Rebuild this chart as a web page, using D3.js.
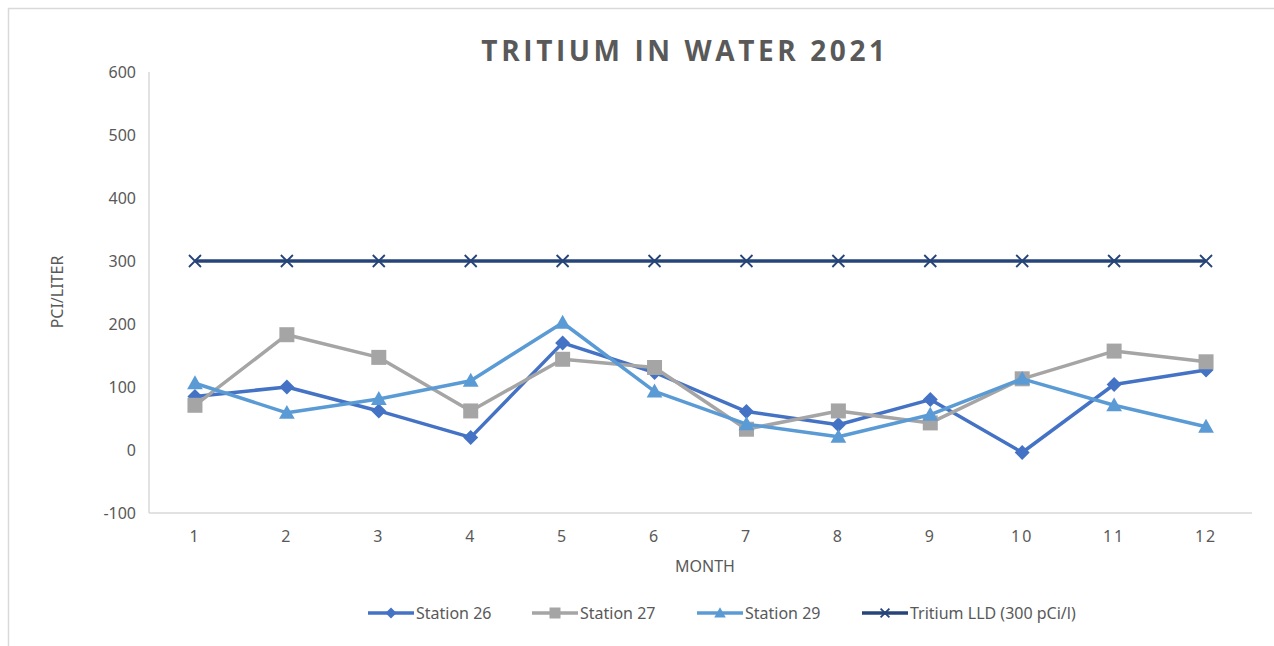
<!DOCTYPE html>
<html>
<head>
<meta charset="utf-8">
<script src="https://cdn.jsdelivr.net/npm/d3@7"></script>
<style>
  body { margin: 0; background: #fff; }
  text { font-family: "Noto Sans", "Open Sans", sans-serif; fill: #595959; }
</style>
</head>
<body>
<svg id="chart" width="1274" height="646"></svg>
<script>
var months = ["1", "2", "3", "4", "5", "6", "7", "8", "9", "10", "11", "12"];
var station26 = [85, 100, 62, 20, 170, 123, 61, 40, 80, -4, 104, 127];
var station27 = [71, 183, 147, 62, 144, 131, 33, 62, 43, 113, 157, 140];
var station29 = [106, 59, 81, 110, 202, 93, 41, 21, 56, 113, 71, 37];
var lld = [300, 300, 300, 300, 300, 300, 300, 300, 300, 300, 300, 300];
var yTicks = [-100, 0, 100, 200, 300, 400, 500, 600];

var series = [
    {name: "Station 26", values: station26, color: "#4472C4", shape: "diamond"},
    {name: "Station 27", values: station27, color: "#A5A5A5", shape: "square"},
    {name: "Station 29", values: station29, color: "#5B9BD5", shape: "triangle"},
    {name: "Tritium LLD (300 pCi/l)", values: lld, color: "#264478", shape: "cross"}
];

var svg = d3.select("#chart");
var margin = {left: 149, right: 22, top: 72, bottom: 133};
var width = 1274 - margin.left - margin.right;
var height = 646 - margin.top - margin.bottom;

// chart frame
svg.append("rect")
    .attr("x", 8.5).attr("y", 8.5)
    .attr("width", 1300).attr("height", 700)
    .attr("fill", "none")
    .attr("stroke", "#d9d9d9")
    .attr("stroke-width", 1.5);

var g = svg.append("g").attr("transform", "translate(" + margin.left + "," + margin.top + ")");

var x = d3.scaleBand().domain(months).range([0, width]);
var y = d3.scaleLinear().domain([-100, 600]).range([height, 0]);

// axes
g.append("line")
    .attr("x1", 0).attr("x2", 0)
    .attr("y1", 0).attr("y2", height)
    .attr("stroke", "#d9d9d9").attr("stroke-width", 1.5);
g.append("line")
    .attr("x1", 0).attr("x2", width)
    .attr("y1", y(-100)).attr("y2", y(-100))
    .attr("stroke", "#d9d9d9").attr("stroke-width", 1.5);

g.selectAll(".ytick")
    .data(yTicks)
    .enter().append("text")
    .attr("class", "ytick")
    .attr("x", -13)
    .attr("y", d => y(d))
    .attr("text-anchor", "end")
    .attr("dominant-baseline", "central")
    .style("font-size", "16px")
    .text(d => d);

g.selectAll(".xtick")
    .data(months)
    .enter().append("text")
    .attr("class", "xtick")
    .attr("x", d => x(d) + x.bandwidth() / 2)
    .attr("y", height + 29)
    .attr("text-anchor", "middle")
    .style("font-size", "16px")
    .style("letter-spacing", "2px")
    .text(d => d);

// titles
svg.append("text")
    .attr("x", 685).attr("y", 61)
    .attr("text-anchor", "middle")
    .style("font-family", "'Open Sans', sans-serif")
    .style("font-size", "28px")
    .style("font-weight", "bold")
    .style("letter-spacing", "3.6px")
    .text("TRITIUM  IN  WATER  2021");

svg.append("text")
    .attr("x", 705).attr("y", 572)
    .attr("text-anchor", "middle")
    .style("font-size", "16px")
    .text("MONTH");

svg.append("text")
    .attr("transform", "translate(63,292) rotate(-90)")
    .attr("text-anchor", "middle")
    .style("font-size", "16px")
    .text("PCI/LITER");

function marker(sel, shape, color, s) {
    // s = half size of marker
    var d;
    if (shape === "cross") {
        var c = s * 0.8;
        sel.append("path")
            .attr("d", "M" + (-c) + "," + (-c) + "L" + c + "," + c + "M" + (-c) + "," + c + "L" + c + "," + (-c))
            .attr("stroke", color).attr("stroke-width", 1.8).attr("fill", "none");
        return;
    }
    if (shape === "diamond") d = "M0," + (-s) + "L" + s + ",0L0," + s + "L" + (-s) + ",0Z";
    if (shape === "square") d = "M" + (-s) + "," + (-s) + "H" + s + "V" + s + "H" + (-s) + "Z";
    if (shape === "triangle") d = "M0," + (-s * 1.05) + "L" + (s * 1.05) + "," + (s * 0.8) + "L" + (-s * 1.05) + "," + (s * 0.8) + "Z";
    sel.append("path").attr("d", d).attr("fill", color);
}

var line = d3.line()
    .x((d, i) => x(months[i]) + x.bandwidth() / 2)
    .y(d => y(d));

series.forEach(function(s) {
    g.append("path")
        .datum(s.values)
        .attr("fill", "none")
        .attr("stroke", s.color)
        .attr("stroke-width", 3.5)
        .attr("stroke-linejoin", "round")
        .attr("d", line);
    var pts = g.selectAll(".pt-" + s.shape)
        .data(s.values)
        .enter().append("g")
        .attr("class", "pt-" + s.shape)
        .attr("transform", (d, i) => "translate(" + (x(months[i]) + x.bandwidth() / 2) + "," + y(d) + ")");
    pts.each(function() { marker(d3.select(this), s.shape, s.color, 7.5); });
});

// legend
var legendX = [368, 532, 697, 862];
var legend = svg.selectAll(".legend")
    .data(series)
    .enter().append("g")
    .attr("class", "legend")
    .attr("transform", (d, i) => "translate(" + legendX[i] + ",613)");
legend.append("line")
    .attr("x1", 0).attr("x2", 46)
    .attr("stroke", d => d.color)
    .attr("stroke-width", 3.5);
legend.each(function(d) {
    var m = d3.select(this).append("g").attr("transform", "translate(23,0)");
    marker(m, d.shape, d.color, 5.5);
});
legend.append("text")
    .attr("x", 48)
    .attr("dominant-baseline", "central")
    .style("font-size", "16px")
    .text(d => d.name);
</script>
</body>
</html>
